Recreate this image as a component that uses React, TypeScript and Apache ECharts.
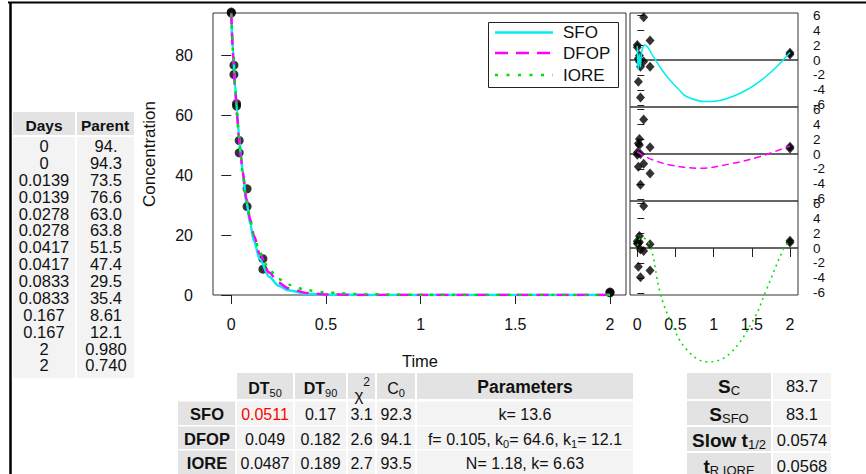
import React, { useEffect, useRef } from "react";
import * as echarts from "echarts";

const FONT = '"Liberation Sans", Arial, Helvetica, sans-serif';

// ---- observed data (left table) ----
const obsDays = [0, 0, 0.0139, 0.0139, 0.0278, 0.0278, 0.0417, 0.0417, 0.0833, 0.0833, 0.167, 0.167, 2, 2];
const obsParent = [94.0, 94.3, 73.5, 76.6, 63.0, 63.8, 51.5, 47.4, 29.5, 35.4, 8.61, 12.1, 0.98, 0.74];
const daysText = ["0", "0", "0.0139", "0.0139", "0.0278", "0.0278", "0.0417", "0.0417", "0.0833", "0.0833", "0.167", "0.167", "2", "2"];
const parentText = ["94.", "94.3", "73.5", "76.6", "63.0", "63.8", "51.5", "47.4", "29.5", "35.4", "8.61", "12.1", "0.980", "0.740"];

// ---- fitted curves ----
const curveTime = [0, 0.01, 0.02, 0.03, 0.04, 0.05, 0.06, 0.08, 0.1, 0.12, 0.15, 0.2, 0.25, 0.3, 0.4, 0.5, 0.7, 1, 1.5, 2];
const sfoFit = [92.3, 80.6, 70.3, 61.4, 53.6, 46.8, 40.8, 31.1, 23.7, 18.0, 12.0, 6.08, 3.08, 1.56, 0.4, 0.1, 0.007, 0, 0, 0];
const dfopFit = [94.1, 79.8, 68.8, 60.0, 52.6, 46.4, 41.0, 32.0, 25.1, 19.7, 13.7, 7.49, 4.09, 2.23, 0.67, 0.2, 0.018, 0, 0, 0];
const ioreFit = [93.5, 80.7, 69.8, 60.7, 52.9, 46.3, 40.6, 31.5, 24.8, 19.7, 14.1, 8.49, 5.32, 3.46, 1.6, 0.81, 0.26, 0.065, 0.012, 0.003];

// ---- residuals (right panels) ----
const sfoResid = [1.7, 2.0, -2.9, 0.2, -0.2, 0.6, -0.9, -5.0, -0.2, 5.7, -0.9, 2.6, 0.98, 0.74];
const dfopResid = [-0.1, 0.2, -1.7, 1.4, 1.2, 2.0, 0.0, -4.1, -1.3, 4.6, -2.6, 0.9, 0.98, 0.74];
const ioreResid = [0.6, 0.9, -2.5, 0.6, 0.8, 1.6, -0.2, -3.9, -0.4, 5.6, -3.0, 0.5, 0.98, 0.74];

const sfoResidCurveT = [0, 0.012, 0.025, 0.04, 0.06, 0.1, 0.21, 0.32, 0.43, 0.54, 0.65, 0.9, 1.08, 1.43, 1.73, 2];
const sfoResidCurveV = [1.9, -1.3, 0.8, -0.9, 1.2, 2.0, 0.45, -1.3, -2.7, -3.9, -4.9, -5.55, -5.4, -4.0, -1.8, 1.0];
const dfopResidCurveT = [0, 0.1, 0.21, 0.43, 0.82, 1.21, 1.6, 2];
const dfopResidCurveV = [0.3, -0.3, -0.8, -1.47, -1.9, -1.33, -0.36, 1.07];
const ioreResidCurveT = [0, 0.03, 0.06, 0.17, 0.3, 0.43, 0.65, 0.93, 1.21, 1.52, 1.69, 1.91, 2];
const ioreResidCurveV = [0.3, 1.2, 1.4, 0.2, -6.0, -9.6, -13.6, -15.2, -14.1, -9.6, -5.6, -0.27, 1.07];

// ---- axis ticks ----
const xTicks = [0, 0.5, 1, 1.5, 2];
const yTicks = [0, 20, 40, 60, 80];
const resTicks = [-6, -4, -2, 0, 2, 4, 6];

// ---- bottom table ----
const modelNames = ["SFO", "DFOP", "IORE"];
const dt50Vals = ["0.0511", "0.049", "0.0487"];
const dt90Vals = ["0.17", "0.182", "0.189"];
const chi2Vals = ["3.1", "2.6", "2.7"];
const c0Vals = ["92.3", "94.1", "93.5"];
const paramVals = ["k= 13.6", "f= 0.105, k{s|0}= 64.6, k{s|1}= 12.1", "N= 1.18, k= 6.63"];

// ---- right table ----
const statLabels = ["{b|S}{s|C}", "{b|S}{s|SFO}", "{b|Slow t}{s|1/2}", "{b|t}{s|R IORE}"];
const statVals = ["83.7", "83.1", "0.0574", "0.0568"];

const legendNames = ["SFO", "DFOP", "IORE"];

const CYAN = "#00eeee";
const MAGENTA = "#ff00ff";
const GREEN = "#00e000";
const HEAD_BG = "#e3e3e3";
const CELL_BG = "#f3f3f3";

function zip(t: number[], v: number[]) {
  return t.map((x, i) => [x, v[i]]);
}

function buildGraphic() {
  const g: any[] = [];
  const rect = (x: number, y: number, w: number, h: number, fill: string) =>
    g.push({ type: "rect", shape: { x, y, width: w, height: h }, style: { fill }, z: 50, silent: true });
  const txt = (x: number, y: number, text: string, extra: any = {}) =>
    g.push({
      type: "text",
      x,
      y,
      z: 51,
      silent: true,
      style: { text, fill: "#111", fontFamily: FONT, fontSize: 16, align: "center", verticalAlign: "middle", ...extra },
    });

  // frame
  g.push({ type: "line", shape: { x1: 8, y1: 2.5, x2: 866, y2: 2.5 }, style: { stroke: "#000", lineWidth: 2 }, z: 60 });
  g.push({ type: "line", shape: { x1: 10.5, y1: 2, x2: 10.5, y2: 474 }, style: { stroke: "#000", lineWidth: 2.5 }, z: 60 });

  // axis names
  txt(149, 154, "Concentration", { fontSize: 17 });
  g[g.length - 1].rotation = Math.PI / 2;
  txt(420, 361, "Time", { fontSize: 16.5 });

  // legend
  g.push({ type: "rect", shape: { x: 488.5, y: 22.5, width: 130, height: 65 }, style: { fill: "#fff", stroke: "#222", lineWidth: 1 }, z: 100 });
  const legColors = [CYAN, MAGENTA, GREEN];
  const legDash: any[] = [null, [13, 8], [3, 8.5]];
  const legY = [32.5, 53, 75];
  legendNames.forEach((n, i) => {
    g.push({
      type: "line",
      shape: { x1: 495, y1: legY[i], x2: 553, y2: legY[i] },
      style: { stroke: legColors[i], lineWidth: 2.5, lineDash: legDash[i] || undefined },
      z: 101,
    });
    g.push({
      type: "text",
      x: 563,
      y: legY[i],
      z: 101,
      style: { text: n, fill: "#111", fontFamily: FONT, fontSize: 17, align: "left", verticalAlign: "middle" },
    });
  });

  // left data table
  rect(13, 112, 62, 23, HEAD_BG);
  rect(77, 112, 57, 23, HEAD_BG);
  rect(13, 137, 62, 241, CELL_BG);
  rect(77, 137, 57, 241, CELL_BG);
  txt(44, 125, "Days", { fontWeight: "bold", fontSize: 15.5 });
  txt(105, 125, "Parent", { fontWeight: "bold", fontSize: 15.5 });
  daysText.forEach((d, i) => {
    const y = 146 + i * 16.88;
    txt(44, y, d, { fontSize: 16.5 });
    txt(106, y, parentText[i], { fontSize: 16.5 });
  });

  // bottom table
  const cols = [
    { x: 237, w: 56 },
    { x: 295, w: 51 },
    { x: 348, w: 27 },
    { x: 377, w: 38 },
    { x: 417, w: 216 },
  ];
  const headY = 373, headH = 26;
  const rowY = [401.5, 426.5, 450.5];
  const rowH = [23.5, 22.5, 25];
  cols.forEach((c) => rect(c.x, headY, c.w, headH, HEAD_BG));
  const subRich = { s: { fontSize: 11, fontFamily: FONT, verticalAlign: "bottom", lineHeight: 12 } };
  const boldSub = {
    b: { fontSize: 16, fontWeight: "bold", fontFamily: FONT, lineHeight: 20 },
    s: { fontSize: 11, fontFamily: FONT, verticalAlign: "bottom", lineHeight: 12 },
  };
  txt(cols[0].x + cols[0].w / 2, 388, "{b|DT}{s|50}", { rich: boldSub });
  txt(cols[1].x + cols[1].w / 2, 388, "{b|DT}{s|90}", { rich: boldSub });
  txt(359, 395, "χ", { fontSize: 17 });
  txt(366.5, 382, "2", { fontSize: 12 });
  txt(cols[3].x + cols[3].w / 2, 388, "{b|C}{s|0}", {
    rich: { b: { fontSize: 16, fontFamily: FONT, lineHeight: 20 }, s: subRich.s },
  });
  txt(cols[4].x + cols[4].w / 2, 387, "Parameters", { fontWeight: "bold", fontSize: 17.5 });

  const rowVals = [dt50Vals, dt90Vals, chi2Vals, c0Vals, paramVals];
  modelNames.forEach((m, r) => {
    rect(178, rowY[r], 57, rowH[r], HEAD_BG);
    cols.forEach((c) => rect(c.x, rowY[r], c.w, rowH[r], CELL_BG));
    const cy = rowY[r] + 12.5;
    txt(207, cy, m, { fontWeight: "bold", fontSize: 16.5 });
    rowVals.forEach((vals, ci) => {
      const c = cols[ci];
      const extra: any = { fontSize: 16 };
      if (ci === 0 && r === 0) extra.fill = "#ff0000";
      if (ci === 4) {
        extra.rich = subRich;
        extra.lineHeight = 20;
      }
      txt(c.x + c.w / 2, cy, vals[r], extra);
    });
  });

  // right stats table
  const sRowY = [373, 401, 427, 453];
  const sRowH = [26, 24, 24, 23];
  const statRich = {
    b: { fontSize: 19, fontWeight: "bold", fontFamily: FONT, lineHeight: 22 },
    s: { fontSize: 13, fontFamily: FONT, verticalAlign: "bottom", lineHeight: 14 },
  };
  statLabels.forEach((l, i) => {
    rect(687, sRowY[i], 84, sRowH[i], HEAD_BG);
    rect(773, sRowY[i], 58, sRowH[i], CELL_BG);
    const cy = sRowY[i] + 13;
    txt(729, cy, l, { rich: statRich });
    txt(802, cy, statVals[i], { fontSize: 16.5 });
  });

  return g;
}

function buildOption(): any {
  const tickLine = { color: "#222", width: 1 };
  const labelBase = { color: "#111", fontFamily: FONT, fontSize: 16 };
  const panelTops = [13, 107, 201];

  const grids: any[] = [
    { left: 213, top: 13, width: 413, height: 282, show: true, borderColor: "#333", borderWidth: 1 },
    ...panelTops.map((top) => ({ left: 630, top, width: 168, height: 94, show: true, borderColor: "#333", borderWidth: 1 })),
  ];

  const xAxes: any[] = [
    {
      type: "value",
      gridIndex: 0,
      min: -0.0966,
      max: 2.0845,
      axisLine: { show: false },
      splitLine: { show: false },
      axisTick: { show: true, length: 9, customValues: xTicks, lineStyle: tickLine },
      axisLabel: { ...labelBase, margin: 21, customValues: xTicks },
    },
    ...[1, 2, 3].map((gi) => ({
      type: "value",
      gridIndex: gi,
      min: -0.0956,
      max: 2.105,
      axisLine: { show: false },
      splitLine: { show: false },
      axisTick: { show: gi === 3, length: 9, customValues: xTicks, lineStyle: tickLine },
      axisLabel: { show: gi === 3, ...labelBase, margin: 21, customValues: xTicks },
    })),
  ];

  const yAxes: any[] = [
    {
      type: "value",
      gridIndex: 0,
      min: 0,
      max: 94,
      axisLine: { show: false },
      splitLine: { show: false },
      axisTick: { show: true, length: 10, customValues: yTicks, lineStyle: tickLine },
      axisLabel: { ...labelBase, margin: 20, customValues: yTicks },
    },
    ...[1, 2, 3].map((gi) => ({
      type: "value",
      gridIndex: gi,
      position: "right",
      min: -6.27,
      max: 6.27,
      axisLine: { show: false },
      splitLine: { show: false },
      axisTick: { show: true, length: 7, customValues: resTicks, lineStyle: tickLine },
      axisLabel: { ...labelBase, fontSize: 13.5, margin: 15, customValues: resTicks },
    })),
  ];

  const series: any[] = [
    {
      type: "scatter",
      xAxisIndex: 0,
      yAxisIndex: 0,
      data: zip(obsDays, obsParent),
      symbol: "circle",
      symbolSize: 9,
      itemStyle: { color: "#000" },
      clip: false,
      z: 2,
      silent: true,
    },
  ];
  const fits = [sfoFit, dfopFit, ioreFit];
  const colors = [CYAN, MAGENTA, GREEN];
  const dashes: any[] = ["solid", [12, 8], [3, 8]];
  fits.forEach((f, i) => {
    series.push({
      type: "line",
      xAxisIndex: 0,
      yAxisIndex: 0,
      data: zip(curveTime, f),
      showSymbol: false,
      symbol: "none",
      smooth: 0.3,
      smoothMonotone: "x",
      lineStyle: { color: colors[i], width: 2.5, type: dashes[i] },
      z: 3 + i,
      silent: true,
    });
  });

  const resids = [sfoResid, dfopResid, ioreResid];
  const rCurves = [
    zip(sfoResidCurveT, sfoResidCurveV),
    zip(dfopResidCurveT, dfopResidCurveV),
    zip(ioreResidCurveT, ioreResidCurveV),
  ];
  const rDashes: any[] = ["solid", [7, 4], [2, 4]];
  resids.forEach((r, i) => {
    const ai = i + 1;
    series.push({
      type: "scatter",
      xAxisIndex: ai,
      yAxisIndex: ai,
      data: zip(obsDays, r),
      symbol: "diamond",
      symbolSize: [9, 10],
      itemStyle: { color: "#000" },
      clip: false,
      z: 3,
      silent: true,
      markLine: {
        silent: true,
        symbol: "none",
        label: { show: false },
        lineStyle: { color: "#333", width: 1.5, type: "solid" },
        data: [{ yAxis: 0 }],
        z: 1,
      },
    });
    series.push({
      type: "line",
      xAxisIndex: ai,
      yAxisIndex: ai,
      data: rCurves[i],
      showSymbol: false,
      symbol: "none",
      smooth: 0.4,
      clip: false,
      lineStyle: { color: colors[i], width: 1.5, type: rDashes[i] },
      z: 4,
      silent: true,
    });
  });

  return {
    animation: false,
    backgroundColor: "#ffffff",
    textStyle: { fontFamily: FONT },
    grid: grids,
    xAxis: xAxes,
    yAxis: yAxes,
    series,
    graphic: { elements: buildGraphic() },
  };
}

export default function App() {
  const ref = useRef<HTMLDivElement>(null);
  useEffect(() => {
    if (!ref.current) return;
    const chart = echarts.init(ref.current, null, { renderer: "svg" });
    chart.setOption(buildOption());
    return () => {
      chart.dispose();
    };
  }, []);
  return (
    <div
      ref={ref}
      style={{ position: "fixed", left: 0, top: 0, width: 866, height: 474, background: "#fff" }}
    />
  );
}
